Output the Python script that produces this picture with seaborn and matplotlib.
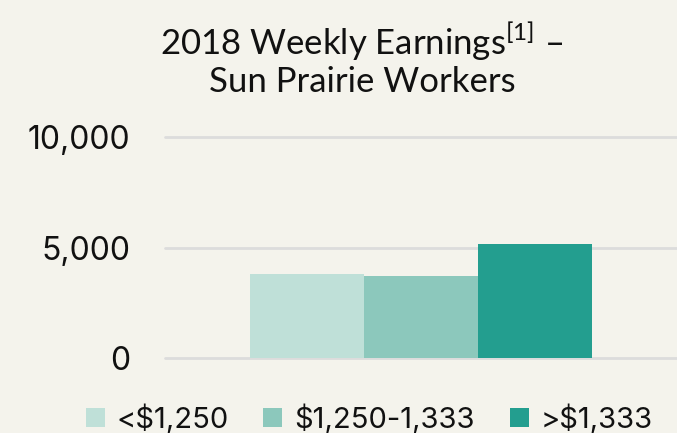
import pandas as pd
import matplotlib.pyplot as plt
import seaborn as sns
from matplotlib.patches import Patch

# Data
groups = ['Sun Prairie', 'Sun Prairie', 'Sun Prairie']
earnings_bins = ['<$1,250', '$1,250-1,333', '>$1,333']
workers = [3820, 3690, 5140]
colors = ['#bfe0d8', '#8cc8bc', '#239e8f']

df = pd.DataFrame({'group': groups, 'bin': earnings_bins, 'workers': workers})

bg = '#f4f3ec'
sns.set_style('white')
plt.rcParams['font.family'] = ['Inter', 'DejaVu Sans']
plt.rcParams['mathtext.fontset'] = 'custom'
plt.rcParams['mathtext.rm'] = 'Lato'

fig = plt.figure(figsize=(6.77, 4.33), dpi=100, facecolor=bg)
ax = fig.add_axes([165 / 677, 75 / 433, 1 - 165 / 677, 221 / 433])
ax.set_facecolor(bg)

sns.barplot(data=df, x='group', y='workers', hue='bin', palette=colors,
            width=2 / 3, saturation=1, ax=ax, legend=False, linewidth=0)

ax.set_xlim(-0.5, 0.5)
ax.set_ylim(0, 10000)
ax.set_yticks([0, 5000, 10000])
ax.set_yticklabels(['0', '5,000', '10,000'])
ax.set_xticks([])
ax.set_xlabel('')
ax.set_ylabel('')
ax.tick_params(axis='y', length=0, pad=25, labelsize=23, labelcolor='#111111')
for y in [0, 5000, 10000]:
    ax.axhline(y, color='#dcdcdc', lw=2, zorder=0, clip_on=False)
sns.despine(ax=ax, left=True, bottom=True)

fig.text(362 / 677, 1 - 92 / 433, 'Sun Prairie Workers', ha='center', va='baseline',
         fontsize=25, family='Lato', color='#111111')
fig.text(362 / 677, 1 - 55 / 433, r'2018 Weekly Earnings$^{\mathrm{[1]}}$ –',
         ha='center', va='baseline', fontsize=25, family='Lato', color='#111111')

handles = [Patch(facecolor=c, edgecolor='none') for c in colors]
fig.legend(handles, earnings_bins, loc='center', bbox_to_anchor=(0.545, 0.032),
           ncols=3, frameon=False, fontsize=21, handlelength=0.65, handleheight=0.65,
           handletextpad=0.4, columnspacing=1.2, labelcolor='#111111',
           borderpad=0.1)

fig.savefig('out.png', dpi=100, facecolor=bg)
